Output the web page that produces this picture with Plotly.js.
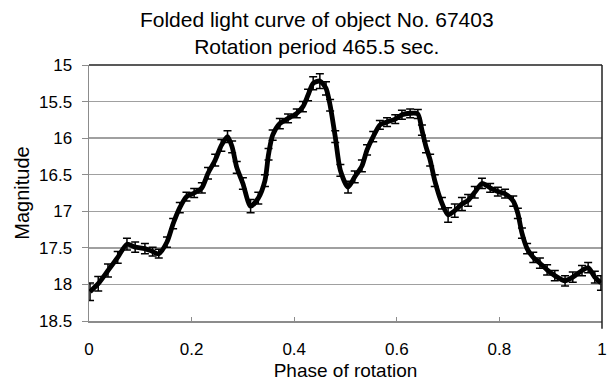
<!DOCTYPE html>
<html>
<head>
<meta charset="utf-8">
<script src="https://cdn.plot.ly/plotly-3.0.1.min.js"></script>
<style>
  html, body { margin: 0; padding: 0; background: #fff; }
  #chart { width: 608px; height: 385px; }
</style>
</head>
<body>
<div id="chart"></div>
<script>
// Folded light curve: phase of rotation vs. magnitude, with error bars
const phase = [
  0.002, 0.018, 0.037, 0.056, 0.074, 0.090, 0.109, 0.124, 0.136, 0.152,
  0.164, 0.177, 0.190, 0.205, 0.220, 0.232, 0.246, 0.258, 0.270, 0.279,
  0.288, 0.300, 0.315, 0.330, 0.343, 0.350, 0.358, 0.372, 0.388, 0.405,
  0.417, 0.427, 0.437, 0.450, 0.462, 0.470, 0.480, 0.490, 0.505, 0.518,
  0.532, 0.542, 0.554, 0.567, 0.581, 0.597, 0.610, 0.626, 0.641, 0.649,
  0.657, 0.665, 0.674, 0.688, 0.700, 0.713, 0.727, 0.739, 0.752, 0.766,
  0.782, 0.797, 0.811, 0.827, 0.836, 0.844, 0.854, 0.866, 0.879, 0.893,
  0.908, 0.928, 0.943, 0.961, 0.973, 0.986, 0.998
];
const magnitude = [
  18.10, 17.99, 17.81, 17.63, 17.45, 17.49, 17.51, 17.55, 17.58, 17.42,
  17.17, 16.95, 16.80, 16.75, 16.68, 16.48, 16.30, 16.10, 15.98, 16.12,
  16.40, 16.62, 16.93, 16.82, 16.58, 16.22, 15.96, 15.80, 15.73, 15.66,
  15.57, 15.41, 15.25, 15.22, 15.32, 15.55, 15.98, 16.44, 16.67, 16.53,
  16.38, 16.16, 15.98, 15.82, 15.78, 15.74, 15.68, 15.66, 15.67, 15.89,
  16.12, 16.30, 16.58, 16.89, 17.05, 16.99, 16.90, 16.85, 16.74, 16.62,
  16.68, 16.73, 16.76, 16.86, 17.03, 17.30, 17.51, 17.63, 17.71, 17.80,
  17.88, 17.95, 17.90, 17.81, 17.77, 17.90, 17.98
];
const magError = [
  0.12, 0.10, 0.09, 0.08, 0.08, 0.07, 0.07, 0.06, 0.06, 0.07,
  0.07, 0.07, 0.06, 0.06, 0.07, 0.08, 0.08, 0.08, 0.08, 0.08,
  0.08, 0.08, 0.09, 0.08, 0.08, 0.08, 0.07, 0.07, 0.06, 0.06,
  0.07, 0.08, 0.09, 0.10, 0.09, 0.08, 0.08, 0.08, 0.08, 0.08,
  0.08, 0.07, 0.07, 0.06, 0.06, 0.06, 0.06, 0.06, 0.06, 0.07,
  0.08, 0.08, 0.08, 0.08, 0.10, 0.09, 0.09, 0.08, 0.08, 0.07,
  0.06, 0.06, 0.06, 0.07, 0.07, 0.07, 0.07, 0.07, 0.07, 0.07,
  0.07, 0.07, 0.07, 0.07, 0.07, 0.08, 0.10
];

const trace = {
  x: phase,
  y: magnitude,
  type: 'scatter',
  mode: 'lines',
  line: { color: '#000', width: 4.8, shape: 'spline', smoothing: 0.7 },
  error_y: {
    type: 'data',
    array: magError,
    visible: true,
    color: '#000',
    thickness: 1.5,
    width: 4
  },
  hoverinfo: 'x+y'
};

const font = 'Liberation Sans, Arial, sans-serif';

const layout = {
  width: 608,
  height: 385,
  margin: { l: 89, r: 6, t: 65, b: 64 },
  paper_bgcolor: '#fff',
  plot_bgcolor: '#fff',
  showlegend: false,
  font: { family: font, color: '#000' },
  title: {
    text: 'Folded light curve of object No. 67403<br>Rotation period 465.5 sec.',
    font: { family: font, size: 21, color: '#000' },
    x: 0.521,
    xref: 'container',
    xanchor: 'center',
    y: 0.93,
    yref: 'container',
    yanchor: 'top'
  },
  xaxis: {
    range: [0, 1],
    dtick: 0.2,
    tick0: 0,
    showgrid: false,
    zeroline: false,
    showline: true,
    linecolor: '#8c8c8c',
    linewidth: 1.5,
    ticks: 'inside',
    ticklen: 4,
    tickcolor: '#8c8c8c',
    tickfont: { family: font, size: 17, color: '#000' },
    ticklabelstandoff: 12,
    title: {
      text: 'Phase of rotation',
      font: { family: font, size: 19, color: '#000' },
      standoff: 6
    }
  },
  yaxis: {
    range: [18.5, 15],
    dtick: 0.5,
    tick0: 15,
    showgrid: true,
    gridcolor: '#a0a0a0',
    gridwidth: 1.5,
    zeroline: false,
    showline: true,
    linecolor: '#8c8c8c',
    linewidth: 1.5,
    ticks: 'outside',
    ticklen: 6,
    tickcolor: '#8c8c8c',
    tickfont: { family: font, size: 17, color: '#000' },
    ticklabelstandoff: 6,
    title: {
      text: 'Magnitude',
      font: { family: font, size: 20, color: '#000' },
      standoff: 4
    }
  },
  shapes: [
    // dark frame on the top and right sides of the plot area
    { type: 'line', xref: 'paper', yref: 'paper', x0: 0, x1: 1, y0: 1, y1: 1,
      line: { color: '#222', width: 1.5 } },
    { type: 'line', xref: 'paper', yref: 'paper', x0: 1, x1: 1, y0: -0.03, y1: 1,
      line: { color: '#222', width: 1.5 } }
  ]
};

Plotly.newPlot('chart', [trace], layout, { displayModeBar: false, staticPlot: true });
</script>
</body>
</html>
